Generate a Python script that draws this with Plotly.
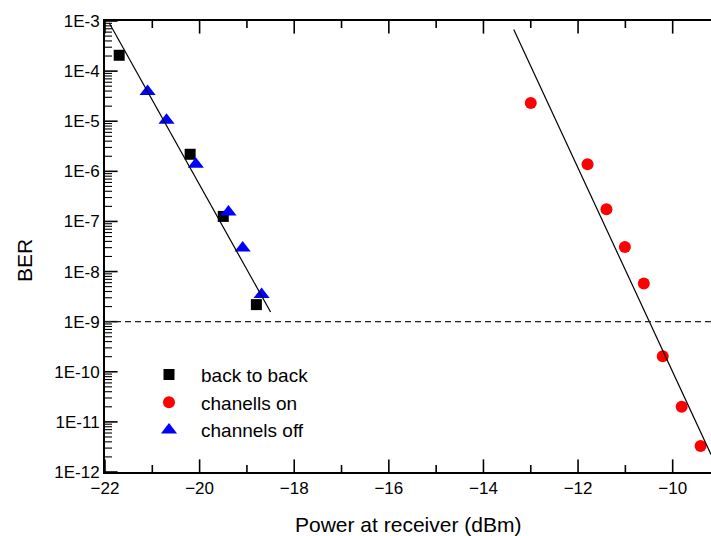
import numpy as np
import plotly.graph_objects as go

# Measured BER vs received optical power
b2b_power = [-21.70, -20.20, -19.50, -18.80]
b2b_ber = [2.07e-4, 2.19e-6, 1.26e-7, 2.19e-9]

on_power = [-13.00, -11.80, -11.40, -11.01, -10.61, -10.21, -9.81, -9.41]
on_ber = [2.31e-5, 1.38e-6, 1.75e-7, 3.09e-8, 5.75e-9, 2.04e-10, 2.0e-11, 3.3e-12]

off_power = [-21.10, -20.70, -20.08, -19.39, -19.09, -18.69]
off_ber = [3.9e-5, 1.05e-5, 1.38e-6, 1.55e-7, 2.95e-8, 3.47e-9]

# Linear fits (in log BER) drawn through each group
fit_left_power = [-21.91, -18.50]
fit_left_ber = [9.12e-4, 1.56e-9]
fit_right_power = [-13.36, -9.19]
fit_right_ber = [6.76e-4, 2.24e-12]

ber_threshold = 1e-9

# Axis ranges and tick values
x_range = [-22, -9.19]
y_range_exp = [-12, -3]
x_major = list(range(-22, -9, 2))
x_minor = list(range(-21, -9, 2))
y_decades = list(range(y_range_exp[0], y_range_exp[1] + 1))
y_tickvals = [10.0 ** d for d in y_decades]
y_ticktext = ["1E%d" % d for d in y_decades]
y_minor_vals = [m * 10.0 ** d for d in y_decades[:-1] for m in range(2, 10)]

y_bottom = 10.0 ** y_range_exp[0]
y_top = 10.0 ** y_range_exp[1]
x_left = x_range[0]

FONT = "Liberation Sans, Arial, sans-serif"

fig = go.Figure()

fig.add_trace(go.Scatter(
    x=b2b_power, y=b2b_ber, mode="markers", name="back to back",
    marker=dict(symbol="square", size=11, color="black", line=dict(width=0)),
))
fig.add_trace(go.Scatter(
    x=on_power, y=on_ber, mode="markers", name="chanells on",
    marker=dict(symbol="circle", size=12, color="#ff0000", line=dict(width=0)),
))
fig.add_trace(go.Scatter(
    x=off_power, y=off_ber, mode="markers", name="channels off",
    marker=dict(symbol="triangle-up", size=14, color="#0000ff", line=dict(width=0)),
))
fig.add_trace(go.Scatter(
    x=fit_left_power, y=fit_left_ber, mode="lines", showlegend=False,
    line=dict(color="black", width=1.2), hoverinfo="skip",
))
fig.add_trace(go.Scatter(
    x=fit_right_power, y=fit_right_ber, mode="lines", showlegend=False,
    line=dict(color="black", width=1.2), hoverinfo="skip",
))


def tick_marks(xs, ys, symbol, length, width):
    # Tick marks centred on an axis line; the plot-area clip keeps only the inner half
    fig.add_trace(go.Scatter(
        x=xs, y=ys, mode="markers", showlegend=False, hoverinfo="skip",
        cliponaxis=True,
        marker=dict(symbol=symbol, size=2 * length, color="black",
                    line=dict(color="black", width=width)),
    ))


# inward ticks on bottom and top edges
tick_marks(x_major * 2, [y_bottom] * len(x_major) + [y_top] * len(x_major), "line-ns", 9, 1.6)
tick_marks(x_minor * 2, [y_bottom] * len(x_minor) + [y_top] * len(x_minor), "line-ns", 5, 1.6)
# inward ticks on the left edge
tick_marks([x_left] * len(y_tickvals), y_tickvals, "line-ew", 9, 1.6)
tick_marks([x_left] * len(y_minor_vals), y_minor_vals, "line-ew", 5, 1.1)

# BER threshold line across the full plot width
fig.add_hline(y=ber_threshold, line=dict(color="#222222", width=1.4, dash="6px,4px"))

fig.update_xaxes(
    range=x_range, tickmode="array", tickvals=x_major,
    ticks="", showline=True, linewidth=2, linecolor="black", mirror=True,
    showgrid=False, zeroline=False,
    tickfont=dict(family=FONT, size=17, color="black"),
)
fig.update_yaxes(
    type="log", range=y_range_exp,
    tickmode="array", tickvals=y_tickvals, ticktext=y_ticktext,
    ticks="", showline=True, linewidth=2, linecolor="black",
    showgrid=False, zeroline=False,
    tickfont=dict(family=FONT, size=17, color="black"),
)

fig.add_annotation(
    text="Power at receiver (dBm)", xref="paper", yref="paper",
    x=0.5, y=-0.116, xanchor="center", yanchor="middle", showarrow=False,
    font=dict(family=FONT, size=21, color="black"),
)
fig.add_annotation(
    text="BER", xref="paper", yref="paper", textangle=-90,
    x=-0.1328, y=0.469, xanchor="center", yanchor="middle", showarrow=False,
    font=dict(family=FONT, size=21, color="black"),
)

fig.update_layout(
    width=711, height=536,
    margin=dict(l=105, r=0, t=21, b=64),
    paper_bgcolor="white", plot_bgcolor="white",
    font=dict(family=FONT, color="black"),
    legend=dict(
        x=0.0528, y=0.258, xanchor="left", yanchor="top",
        font=dict(family=FONT, size=19, color="black"),
        itemwidth=54, bgcolor="rgba(0,0,0,0)", borderwidth=0,
    ),
)

fig.write_html("out.html")
